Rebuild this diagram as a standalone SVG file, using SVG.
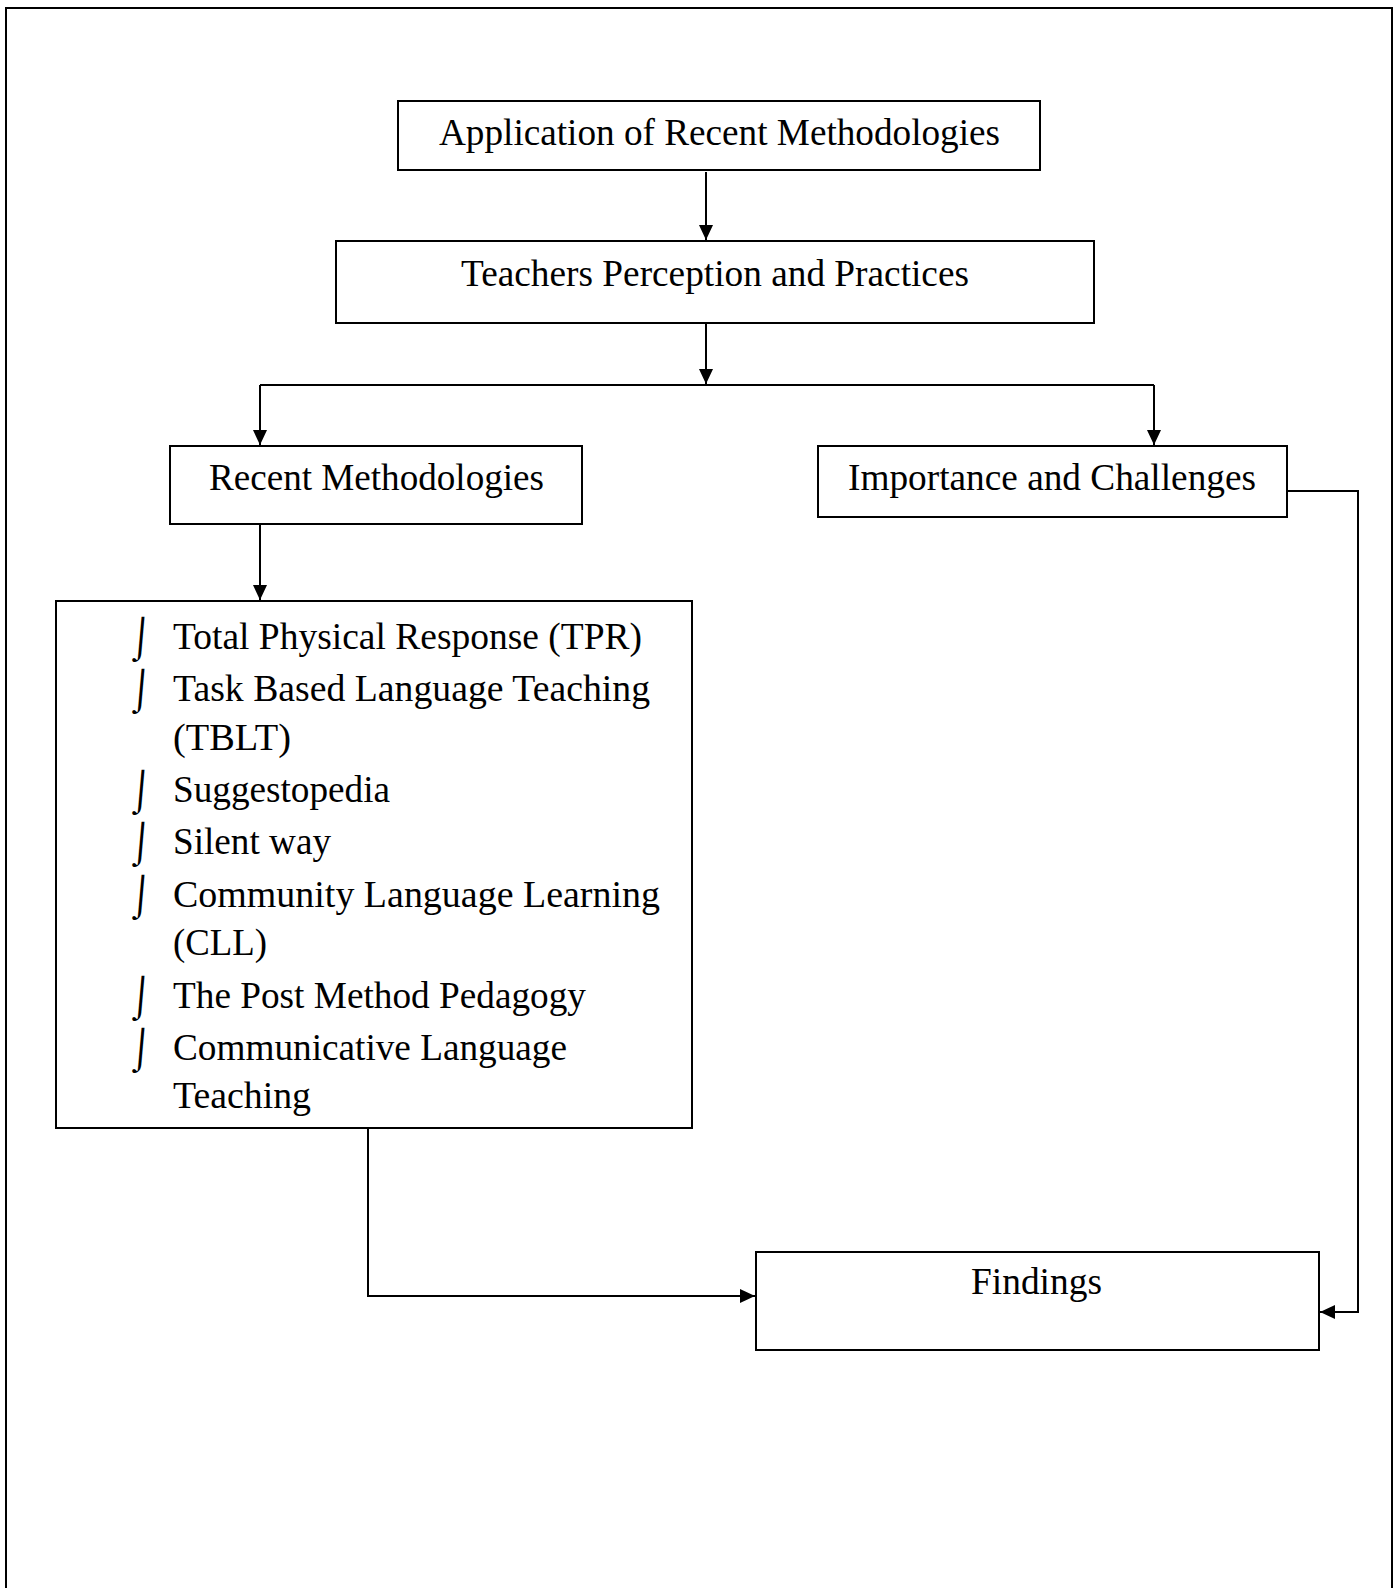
<svg xmlns="http://www.w3.org/2000/svg" width="1400" height="1588" viewBox="0 0 1400 1588">
<style>
.box{fill:#fff;stroke:#000;stroke-width:2}
.t{font-family:"Liberation Serif","Times New Roman",serif;font-size:37px;fill:#000}
.b{font-family:"Liberation Serif","Times New Roman",serif;font-size:40px;fill:#000}
.c{fill:none;stroke:#000;stroke-width:2}
</style>
<defs>
<marker id="ah" markerWidth="15" markerHeight="14" refX="15" refY="7" orient="auto" markerUnits="userSpaceOnUse">
<path d="M0,0 L15,7 L0,14 Z" fill="#000"/>
</marker>
</defs>
<rect x="6" y="8" width="1386" height="1600" fill="none" stroke="#000" stroke-width="2"/>
<g id="connectors">
<path class="c" d="M706,172 V240" marker-end="url(#ah)"/>
<path class="c" d="M706,324 V384" marker-end="url(#ah)"/>
<path class="c" d="M260,385 H1154"/>
<path class="c" d="M260,385 V445" marker-end="url(#ah)"/>
<path class="c" d="M1154,385 V445" marker-end="url(#ah)"/>
<path class="c" d="M260,525 V600" marker-end="url(#ah)"/>
<path class="c" d="M368,1128 V1296 H755" marker-end="url(#ah)"/>
<path class="c" d="M1287,491 H1358 V1312 H1320" marker-end="url(#ah)"/>
</g>
<g id="n1">
<rect class="box" x="398" y="101" width="642" height="69"/>
<text class="t" x="439" y="145" textLength="561" lengthAdjust="spacingAndGlyphs">Application of Recent Methodologies</text>
</g>
<g id="n2">
<rect class="box" x="336" y="241" width="758" height="82"/>
<text class="t" x="461" y="286" textLength="508" lengthAdjust="spacingAndGlyphs">Teachers Perception and Practices</text>
</g>
<g id="n3">
<rect class="box" x="170" y="446" width="412" height="78"/>
<text class="t" x="209" y="490" textLength="335" lengthAdjust="spacingAndGlyphs">Recent Methodologies</text>
</g>
<g id="n4">
<rect class="box" x="818" y="446" width="469" height="71"/>
<text class="t" x="848" y="490" textLength="408" lengthAdjust="spacingAndGlyphs">Importance and Challenges</text>
</g>
<g id="n5">
<rect class="box" x="56" y="601" width="636" height="527"/>
<text class="b" transform="translate(128,650) skewX(-5)">⌡</text>
<text class="t" x="173" y="649" textLength="469" lengthAdjust="spacingAndGlyphs">Total Physical Response (TPR)</text>
<text class="b" transform="translate(128,702) skewX(-5)">⌡</text>
<text class="t" x="173" y="701" textLength="477" lengthAdjust="spacingAndGlyphs">Task Based Language Teaching</text>
<text class="t" x="173" y="750" textLength="118" lengthAdjust="spacingAndGlyphs">(TBLT)</text>
<text class="b" transform="translate(128,803) skewX(-5)">⌡</text>
<text class="t" x="173" y="802" textLength="217" lengthAdjust="spacingAndGlyphs">Suggestopedia</text>
<text class="b" transform="translate(128,855) skewX(-5)">⌡</text>
<text class="t" x="173" y="854" textLength="158" lengthAdjust="spacingAndGlyphs">Silent way</text>
<text class="b" transform="translate(128,908) skewX(-5)">⌡</text>
<text class="t" x="173" y="907" textLength="487" lengthAdjust="spacingAndGlyphs">Community  Language Learning</text>
<text class="t" x="173" y="955" textLength="94" lengthAdjust="spacingAndGlyphs">(CLL)</text>
<text class="b" transform="translate(128,1009) skewX(-5)">⌡</text>
<text class="t" x="173" y="1008" textLength="413" lengthAdjust="spacingAndGlyphs">The Post Method Pedagogy</text>
<text class="b" transform="translate(128,1061) skewX(-5)">⌡</text>
<text class="t" x="173" y="1060" textLength="394" lengthAdjust="spacingAndGlyphs">Communicative Language</text>
<text class="t" x="173" y="1108" textLength="138" lengthAdjust="spacingAndGlyphs">Teaching</text>
</g>
<g id="n6">
<rect class="box" x="756" y="1252" width="563" height="98"/>
<text class="t" x="971" y="1294" textLength="131" lengthAdjust="spacingAndGlyphs">Findings</text>
</g>
</svg>
